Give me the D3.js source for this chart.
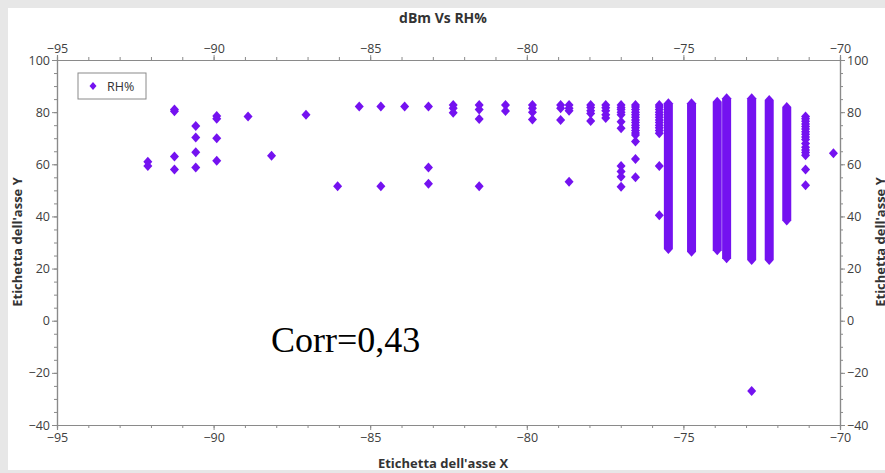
<html>
	<head>
		<script type="text/javascript" src="https://cdn.jsdelivr.net/npm/d3@7"></script>
		<style>
			body { margin: 0; background: #e7e7e7; }
			text { font-family: "Open Sans", "Noto Sans", sans-serif; }
		</style>
	</head>
	<body>
		<script type="text/javascript">

			// single readings (dBm column -> RH% values)
			var sparseDbm = [-92.1, -91.25, -90.57, -89.9, -88.9, -88.15, -87.05, -86.04, -85.35, -84.66,
				-83.9, -83.14, -82.35, -81.52, -80.68, -79.82, -78.92, -78.65, -77.96, -77.48,
				-76.99, -76.53, -75.77, -72.82, -71.1, -70.21];
			var sparseRh = [
				[61, 59.3],
				[81, 80.3, 63, 58],
				[74.7, 70.3, 64.6, 58.8],
				[78.5, 77.5, 70, 61.4],
				[78.3],
				[63.3],
				[79],
				[51.6],
				[82.2],
				[82.2, 51.6],
				[82.2],
				[82.2, 58.8, 52.5],
				[82.7, 81.5, 79.8],
				[82.7, 81, 77.4, 51.6],
				[82.7, 80.4],
				[82.7, 81.5, 80, 77.2],
				[82.7, 81.5, 77],
				[82.7, 81.5, 80.5, 53.3],
				[82.7, 81.8, 80.5, 79.5, 76.6],
				[82.7, 81.7, 80.5, 79, 77.8],
				[82.7, 81.8, 81, 80, 79, 76.3, 73.8, 59.3, 57.2, 55.2, 51.4],
				[82.7, 82, 81, 80, 79, 78, 77, 76, 75, 74, 73, 72, 71.2, 68.7, 62, 55],
				[82.7, 82, 81, 80, 79, 78, 77, 76, 75, 74, 73, 71.9, 59.3, 40.5],
				[-27],
				[78.3, 77.5, 76.5, 75.5, 74.5, 73.5, 72.5, 71.5, 70.5, 69.5, 68, 66.5, 65.5, 64.5, 63.5, 58, 52],
				[64.2]
			];

			// columns packed so densely they read as solid bars
			var denseDbm = [-75.48, -74.74, -73.92, -73.62, -72.82, -72.26, -71.7];
			var denseTop = [83.4, 83.4, 84, 85.3, 85.3, 84.7, 82];
			var denseBottom = [27.5, 26.5, 27, 24, 23.3, 23.3, 38.4];

			var xTicks = [-95, -90, -85, -80, -75, -70];
			var yTicks = [-40, -20, 0, 20, 40, 60, 80, 100];

			var width = 885,
				height = 473,
				pLeft = 57, pRight = 840, pTop = 60, pBottom = 425,
				color = '#7412f0',
				axisColor = '#8a8a8a',
				labelColor = '#404040';

			var x = d3.scaleLinear().domain([-95, -70]).range([pLeft, pRight]);
			var y = d3.scaleLinear().domain([-40, 100]).range([pBottom, pTop]);

			var svg = d3.select('body').append('svg')
				.attr('width', width)
				.attr('height', height)
				.style('display', 'block');

			svg.append('rect').attr('width', width).attr('height', height).attr('fill', '#e7e7e7');
			svg.append('rect').attr('x', 8).attr('y', 8).attr('width', width - 8).attr('height', 462).attr('fill', '#ffffff');

			//minor ticks first, so major ones sit on top
			var xMinor = d3.range(-95, -69.5, 1),
				yMinor = d3.range(-40, 100.5, 5);

			function styleAxis(g){
				g.select('.domain').attr('stroke', axisColor).attr('stroke-width', 1.2);
				g.selectAll('.tick line').attr('stroke', axisColor);
				g.selectAll('.tick text').attr('fill', labelColor).style('font-size', '12.5px')
					.style('font-family', '"Open Sans", "Noto Sans", sans-serif');
			}

			svg.append('g').attr('transform', 'translate(0,' + pBottom + ')')
				.call(d3.axisBottom(x).tickValues(xMinor).tickSize(3).tickFormat(''))
				.call(styleAxis);
			svg.append('g').attr('transform', 'translate(0,' + pTop + ')')
				.call(d3.axisTop(x).tickValues(xMinor).tickSize(3).tickFormat(''))
				.call(styleAxis);
			svg.append('g').attr('transform', 'translate(' + pLeft + ',0)')
				.call(d3.axisLeft(y).tickValues(yMinor).tickSize(3).tickFormat(''))
				.call(styleAxis);
			svg.append('g').attr('transform', 'translate(' + pRight + ',0)')
				.call(d3.axisRight(y).tickValues(yMinor).tickSize(3).tickFormat(''))
				.call(styleAxis);

			var fmt = function(d){ return d < 0 ? '\u2212' + Math.abs(d) : d; };

			svg.append('g').attr('transform', 'translate(0,' + pBottom + ')')
				.call(d3.axisBottom(x).tickValues(xTicks).tickSize(5).tickPadding(3).tickFormat(fmt))
				.call(styleAxis);
			svg.append('g').attr('transform', 'translate(0,' + pTop + ')')
				.call(d3.axisTop(x).tickValues(xTicks).tickSize(5).tickPadding(2).tickFormat(fmt))
				.call(styleAxis);
			svg.append('g').attr('transform', 'translate(' + pLeft + ',0)')
				.call(d3.axisLeft(y).tickValues(yTicks).tickSize(5).tickPadding(2).tickFormat(fmt))
				.call(styleAxis);
			svg.append('g').attr('transform', 'translate(' + pRight + ',0)')
				.call(d3.axisRight(y).tickValues(yTicks).tickSize(5).tickPadding(2).tickFormat(fmt))
				.call(styleAxis);

			// diamond marker, 9 wide x 10 tall
			var diamond = 'M0,-5L4.5,0L0,5L-4.5,0Z';

			var points = [];
			sparseDbm.forEach(function(d, i){
				sparseRh[i].forEach(function(v){ points.push([d, v]); });
			});

			var plot = svg.append('g');

			plot.selectAll('path.bar').data(denseDbm).enter().append('path')
				.attr('class', 'bar')
				.attr('fill', color)
				.attr('d', function(d, i){
					var cx = x(d), yt = y(denseTop[i]), yb = y(denseBottom[i]);
					return 'M' + cx + ',' + (yt - 5) + 'L' + (cx + 4.5) + ',' + yt + 'L' + (cx + 4.5) + ',' + yb +
						'L' + cx + ',' + (yb + 5) + 'L' + (cx - 4.5) + ',' + yb + 'L' + (cx - 4.5) + ',' + yt + 'Z';
				});

			plot.selectAll('path.pt').data(points).enter().append('path')
				.attr('class', 'pt')
				.attr('fill', color)
				.attr('d', diamond)
				.attr('transform', function(d){ return 'translate(' + x(d[0]) + ',' + y(d[1]) + ')'; });

			//legend
			var legend = svg.append('g').attr('transform', 'translate(78,73)');
			legend.append('rect').attr('width', 68).attr('height', 26)
				.attr('fill', '#fff').attr('stroke', '#8a8a8a').attr('stroke-width', 1);
			legend.append('path').attr('d', 'M0,-4L3.5,0L0,4L-3.5,0Z').attr('fill', color)
				.attr('transform', 'translate(15,13)');
			legend.append('text').attr('x', 29).attr('y', 17.5).attr('fill', '#333')
				.style('font-size', '12.5px').text('RH%');

			//titles
			svg.append('text').attr('x', 443).attr('y', 23).attr('text-anchor', 'middle')
				.attr('fill', '#333').style('font-size', '14px').style('font-weight', 'bold').text('dBm Vs RH%');
			svg.append('text').attr('x', 443).attr('y', 468).attr('text-anchor', 'middle')
				.attr('fill', '#333').style('font-size', '13px').style('font-weight', 'bold').text("Etichetta dell'asse X");
			svg.append('text').attr('transform', 'translate(22,242) rotate(-90)').attr('text-anchor', 'middle')
				.attr('fill', '#333').style('font-size', '13px').style('font-weight', 'bold').text("Etichetta dell'asse Y");
			svg.append('text').attr('transform', 'translate(885,242) rotate(-90)').attr('text-anchor', 'middle')
				.attr('fill', '#333').style('font-size', '13px').style('font-weight', 'bold').text("Etichetta dell'asse Y");

			svg.append('text').attr('x', 271).attr('y', 352)
				.style('font-family', '"Liberation Serif", "DejaVu Serif", serif')
				.style('font-size', '36px').attr('fill', '#000').text('Corr=0,43');

		</script>
	</body>
</html>
